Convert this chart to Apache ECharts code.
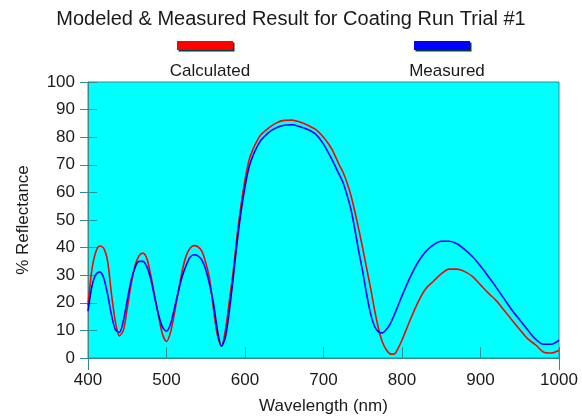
<!DOCTYPE html>
<html>
<head>
<meta charset="utf-8">
<script src="https://cdn.jsdelivr.net/npm/echarts@6/dist/echarts.min.js"></script>
<style>
html,body{margin:0;padding:0;background:#fff;}
#chart{width:582px;height:420px;}
</style>
</head>
<body>
<div id="chart"></div>
<script>
var titleText = 'Modeled & Measured Result for Coating Run Trial #1';
var seriesNames = ['Calculated', 'Measured'];
var xTicks = [400, 500, 600, 700, 800, 900, 1000];
var yTicks = [0, 10, 20, 30, 40, 50, 60, 70, 80, 90, 100];

var wavelength = [400, 405, 410, 415, 420, 425, 430, 435, 440, 445, 450, 455, 460, 465, 470, 475, 480, 485, 490, 495,
  500, 505, 510, 515, 520, 525, 530, 535, 540, 545, 550, 555, 560, 565, 570, 575, 580, 585, 590, 595,
  600, 605, 610, 615, 620, 630, 640, 650, 660, 670, 680, 690, 700, 710, 720, 725, 730, 735, 740, 745,
  750, 755, 760, 765, 770, 775, 780, 785, 790, 795, 800, 810, 820, 830, 840, 850, 860, 870, 880, 890,
  900, 910, 920, 930, 940, 950, 960, 970, 980, 990, 1000];
var calculated = [19, 32, 38.5, 40.6, 39.8, 35, 23, 13, 8, 10, 18, 26.8, 33.5, 37, 38, 36, 30, 22.5, 15, 8.5,
  6, 9.2, 16, 24, 31.5, 37, 39.8, 40.7, 40.3, 38.7, 34.5, 28.5, 17.5, 8, 4.3, 10, 20.5, 31.4, 44.5, 55.5,
  64.5, 71.5, 75.5, 78.5, 80.8, 83.3, 85.2, 86.1, 86.2, 85.5, 84.3, 82.8, 80, 76, 70, 67.2, 63.5, 58.8, 53, 46.5,
  39.7, 32.5, 25.3, 17.5, 10.8, 5.8, 3, 1.5, 1.4, 3.5, 6.5, 13.5, 20, 25, 27.8, 30.5, 32.2, 32.2, 31.3, 29.5,
  26.5, 23.5, 20.8, 17.3, 13.8, 10.3, 7, 4.8, 2.2, 1.8, 2.8];
var measured = [17, 26, 30.3, 31.2, 29, 23, 15.5, 10.2, 9.3, 13.5, 21, 28.2, 32.8, 35, 35, 33, 28.5, 21.8, 15.5, 11.2,
  9.7, 12.2, 18, 24, 29.5, 33.5, 36.5, 37.4, 37, 35.5, 32, 26.5, 19.5, 10, 4.3, 7.5, 17, 29, 42, 53,
  62, 69, 73.2, 76.3, 78.8, 81.7, 83.4, 84.3, 84.5, 83.8, 82.8, 81.1, 77.5, 72.3, 66.5, 63.5, 59, 53.8, 46.5, 38.5,
  31.2, 23, 16, 11.5, 9.5, 9.1, 10.3, 12.4, 15.5, 19, 22.5, 29, 34.5, 38.5, 41, 42.3, 42.3, 41.4, 39.3, 36.7,
  33.3, 29.5, 25.6, 21.5, 17.4, 13.8, 10.2, 6.9, 5, 5, 6.5];

function zip(xs, ys) { return xs.map(function (x, i) { return [x, ys[i]]; }); }

var FONT = "'Liberation Sans', Arial, sans-serif";
var TEAL = '#2e8e8e';
var TXT = '#1a1a1a';

var chart = echarts.init(document.getElementById('chart'), null, {renderer: 'canvas'});
chart.setOption({
  animation: false,
  backgroundColor: '#ffffff',
  title: [
    {text: titleText, left: 'center', top: 4, textStyle: {fontFamily: FONT, fontSize: 20, fontWeight: 'normal', color: TXT}},
    {text: seriesNames[0], left: 205, textAlign: 'center', top: 58, textStyle: {fontFamily: FONT, fontSize: 17, fontWeight: 'normal', color: TXT}},
    {text: seriesNames[1], left: 442, textAlign: 'center', top: 58, textStyle: {fontFamily: FONT, fontSize: 17, fontWeight: 'normal', color: TXT}}
  ],
  legend: [
    {data: [{name: seriesNames[0], icon: 'rect'}], left: 177, top: 41, padding: 0, itemWidth: 56, itemHeight: 9, formatter: function () { return ''; },
     itemStyle: {shadowColor: '#004040', shadowOffsetX: 1.5, shadowOffsetY: 1.5, shadowBlur: 0}},
    {data: [{name: seriesNames[1], icon: 'rect'}], left: 414, top: 41, padding: 0, itemWidth: 56, itemHeight: 9, formatter: function () { return ''; },
     itemStyle: {shadowColor: '#004040', shadowOffsetX: 1.5, shadowOffsetY: 1.5, shadowBlur: 0}}
  ],
  grid: {left: 88, right: 23, top: 82, bottom: 59, show: true, backgroundColor: '#00ffff', borderColor: TEAL, borderWidth: 1},
  xAxis: [
    {type: 'value', position: 'bottom', min: xTicks[0], max: xTicks[xTicks.length - 1], interval: 100,
     name: 'Wavelength (nm)', nameLocation: 'middle', nameGap: 40,
     nameTextStyle: {fontFamily: FONT, fontSize: 17, color: TXT},
     axisLine: {show: true, lineStyle: {color: TEAL, width: 1}},
     axisTick: {show: true, inside: true, length: 11, lineStyle: {color: TEAL, width: 1}},
     axisLabel: {fontFamily: FONT, fontSize: 17, color: TXT, margin: 14, formatter: function (v) { return String(v); }},
     splitLine: {show: false}},
    {type: 'value', position: 'bottom', min: xTicks[0], max: xTicks[xTicks.length - 1], interval: 600,
     axisLine: {show: false}, axisTick: {show: true, inside: false, length: 12, lineStyle: {color: TEAL, width: 1}},
     axisLabel: {show: false}, splitLine: {show: false}}
  ],
  yAxis: [
    {type: 'value', position: 'left', min: yTicks[0], max: yTicks[yTicks.length - 1], interval: 10,
     name: '% Reflectance', nameLocation: 'middle', nameGap: 56, nameRotate: 90,
     nameTextStyle: {fontFamily: FONT, fontSize: 17, color: TXT},
     axisLine: {show: true, lineStyle: {color: TEAL, width: 1}},
     axisTick: {show: true, inside: false, length: 8, lineStyle: {color: TEAL, width: 1}},
     axisLabel: {fontFamily: FONT, fontSize: 17, color: TXT, margin: 13},
     splitLine: {show: false}},
    {type: 'value', position: 'left', min: yTicks[0], max: yTicks[yTicks.length - 1], interval: 10,
     axisLine: {show: false}, axisTick: {show: true, inside: true, length: 9, lineStyle: {color: TEAL, width: 1}},
     axisLabel: {show: false}, splitLine: {show: false}}
  ],
  series: [
    {name: seriesNames[0], type: 'line', xAxisIndex: 0, yAxisIndex: 0, data: zip(wavelength, calculated),
     showSymbol: false, smooth: 0.3, lineStyle: {color: '#ff0000', width: 1.6}, itemStyle: {color: '#ff0000'}, z: 3},
    {name: seriesNames[1], type: 'line', xAxisIndex: 0, yAxisIndex: 0, data: zip(wavelength, measured),
     showSymbol: false, smooth: 0.3, lineStyle: {color: '#0000ff', width: 1.6}, itemStyle: {color: '#0000ff'}, z: 4}
  ]
});
</script>
</body>
</html>
